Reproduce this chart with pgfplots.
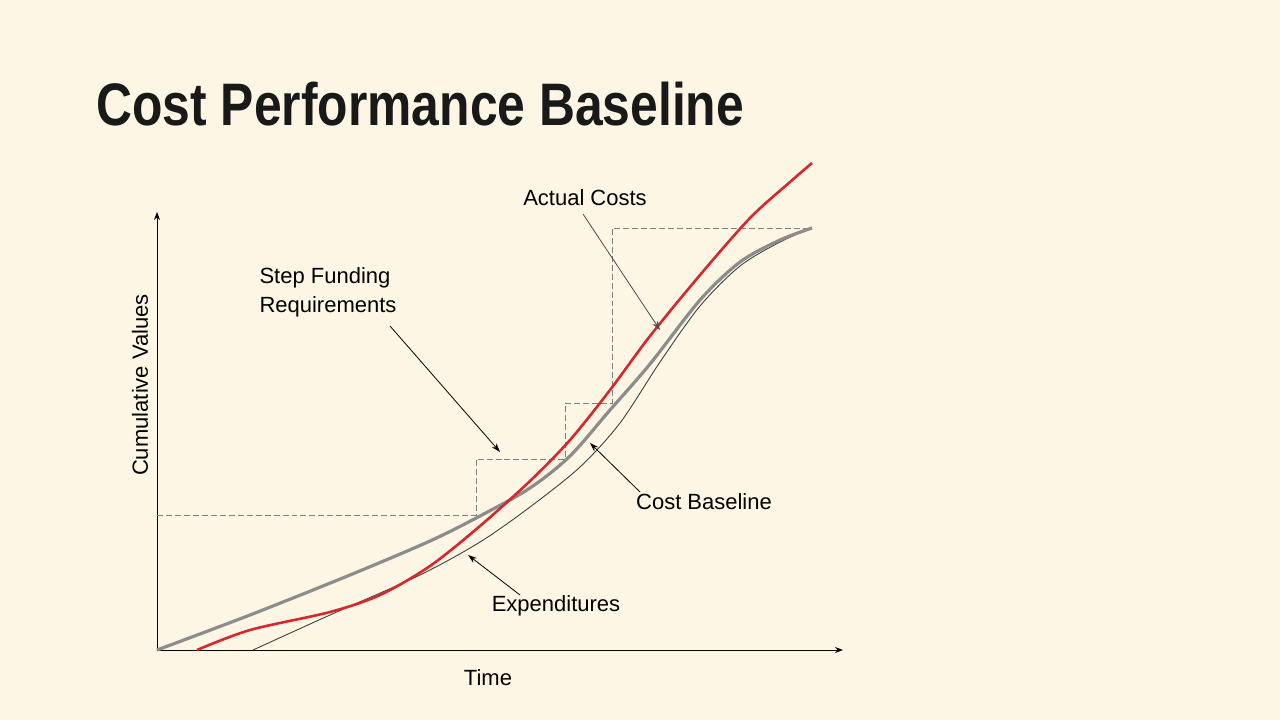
\documentclass[border=0pt]{standalone}
\usepackage{pgfplots}
\pgfplotsset{compat=1.18}
\usepackage{fontspec}
\setmainfont{Liberation Sans}
\usetikzlibrary{arrows.meta}
\definecolor{bg}{HTML}{FDF6E4}
\definecolor{cb}{HTML}{8C8C8C}
\definecolor{ac}{HTML}{D8262C}
\begin{document}
\begin{tikzpicture}
\fill[bg] (0,0) rectangle (1280bp,720bp);
\begin{axis}[at={(0,0)},anchor=south west,width=1280bp,height=720bp,scale only axis,
 xmin=0,xmax=1280,ymin=0,ymax=720,axis lines=none,clip=false,y dir=reverse]
\addplot[black,line width=0.8pt,-{Stealth[length=8pt,width=6pt]}] coordinates {(157,650) (843,650)};
\addplot[black,line width=0.8pt,-{Stealth[length=8pt,width=6pt]}] coordinates {(157,650) (157,212)};
\addplot[gray,line width=0.8pt,dash pattern=on 6pt off 3pt] coordinates {(157,515) (476,515) (476,459) (565,459) (565,403) (612,403) (612,228) (812,228)};
\addplot[black!75,line width=0.9pt,smooth] coordinates {(253,650) (330,615) (420,575) (480,542) (530,507) (580,467) (620,423) (660,362) (700,306) (740,266) (780,242) (812,228)};
\addplot[cb,line width=3.2pt,smooth] coordinates {(157,650) (250,615) (350,575) (430,541) (480,516) (530,488) (570,456) (610,410) (650,364) (700,300) (740,262) (780,240) (812,228)};
\addplot[ac,line width=2.6pt,smooth] coordinates {(197,650) (250,630) (330,612) (380,595) (430,566) (480,526) (530,481) (570,440) (610,390) (650,336) (700,275) (750,218) (790,182) (812,163)};
\addplot[black!70,line width=0.8pt,-{Stealth[length=9pt,width=6pt]}] coordinates {(583,214) (660,330)};
\addplot[black,line width=0.8pt,-{Stealth[length=9pt,width=6pt]}] coordinates {(390,326) (500,452)};
\addplot[black,line width=0.8pt,-{Stealth[length=9pt,width=6pt]}] coordinates {(640,492) (590,443)};
\addplot[black,line width=0.8pt,-{Stealth[length=9pt,width=6pt]}] coordinates {(520,595) (468,555)};
\node[font=\fontsize{22bp}{26bp}\selectfont] at (axis cs:585,198) {Actual Costs};
\node[font=\fontsize{22bp}{29bp}\selectfont,align=left] at (axis cs:328,292) {Step Funding\\Requirements};
\node[font=\fontsize{22bp}{26bp}\selectfont] at (axis cs:704,502) {Cost Baseline};
\node[font=\fontsize{22bp}{26bp}\selectfont] at (axis cs:556,606) {Expenditures};
\node[font=\fontsize{22bp}{26bp}\selectfont] at (axis cs:488,678) {Time};
\node[font=\fontsize{22bp}{26bp}\selectfont,rotate=90] at (axis cs:140,385) {Cumulative Values};
\node[anchor=west,font=\bfseries\fontsize{60bp}{70bp}\selectfont,text=black!90] at (axis cs:93,104) {\scalebox{0.83}[1]{Cost Performance Baseline}};
\end{axis}
\end{tikzpicture}
\end{document}
